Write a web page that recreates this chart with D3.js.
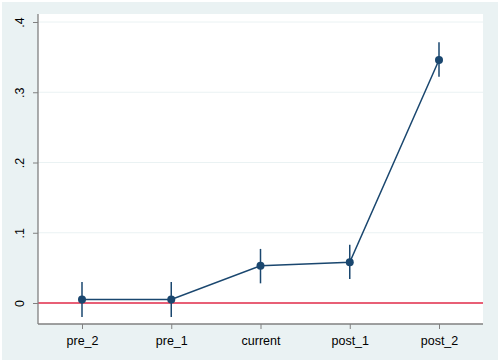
<!DOCTYPE html>
<html><head><meta charset="utf-8">
<script src="https://cdn.jsdelivr.net/npm/d3@7"></script>
<style>body{margin:0;background:#fff}svg{display:block}text{font-family:"Liberation Sans",Arial,sans-serif}</style>
</head><body>
<div id="chart"></div>
<script>
const categories = ["pre_2", "pre_1", "current", "post_1", "post_2"];
const estimates  = [0.005, 0.005, 0.053, 0.058, 0.346];
const ciLower    = [-0.020, -0.020, 0.028, 0.034, 0.322];
const ciUpper    = [0.030, 0.030, 0.077, 0.083, 0.371];
const yTicks     = [0, 0.1, 0.2, 0.3, 0.4];
const yTickLabels = ["0", ".1", ".2", ".3", ".4"];

const W = 498, H = 363;
const plot = {left: 38, right: 483, top: 14, bottom: 324};

const svg = d3.select("#chart").append("svg").attr("width", W).attr("height", H);
svg.append("rect").attr("x", 2).attr("y", 2).attr("width", W - 2).attr("height", 358).attr("fill", "#eaf2f3");
svg.append("rect").attr("x", plot.left).attr("y", plot.top)
  .attr("width", plot.right - plot.left).attr("height", plot.bottom - plot.top).attr("fill", "#fff");

const x = d3.scalePoint().domain(categories).range([82, 439]);
const y = d3.scaleLinear().domain([0, 0.4]).range([303, 22]);

// gridlines
svg.append("g").selectAll("line").data(yTicks.filter(d => d > 0)).join("line")
  .attr("x1", plot.left).attr("x2", plot.right)
  .attr("y1", d => y(d)).attr("y2", d => y(d))
  .attr("stroke", "#eaf2f3").attr("stroke-width", 1);

// zero line
svg.append("line").attr("x1", plot.left).attr("x2", plot.right)
  .attr("y1", y(0)).attr("y2", y(0)).attr("stroke", "#e02a48").attr("stroke-width", 1.5);

// y axis
const yAxis = d3.axisLeft(y).tickValues(yTicks).tickFormat((d, i) => yTickLabels[i]).tickSize(5).tickSizeOuter(0);
const gy = svg.append("g").attr("transform", `translate(${plot.left},0)`).call(yAxis);
gy.select(".domain").attr("d", `M0,${plot.top}V${plot.bottom}`).attr("stroke", "#808080").attr("stroke-width", 1.3);
gy.selectAll(".tick line").attr("stroke", "#808080");
gy.selectAll(".tick text").attr("font-size", 12.5).attr("fill", "#000")
  .attr("transform", "rotate(-90)").attr("x", 0).attr("y", -14).attr("dy", 0)
  .attr("text-anchor", "middle").attr("dominant-baseline", "auto");

// x axis
const xAxis = d3.axisBottom(x).tickSize(5).tickSizeOuter(0);
const gx = svg.append("g").attr("transform", `translate(0,${plot.bottom})`).call(xAxis);
gx.select(".domain").attr("d", `M${plot.left},0H${plot.right}`).attr("stroke", "#808080").attr("stroke-width", 1.3);
gx.selectAll(".tick line").attr("stroke", "#808080");
gx.selectAll(".tick text").attr("font-size", 12.5).attr("fill", "#000").attr("y", 12).attr("dy", "0.71em");

const data = categories.map((c, i) => ({c, v: estimates[i], lo: ciLower[i], hi: ciUpper[i]}));
const col = "#1a476f";

// CIs
svg.append("g").selectAll("line").data(data).join("line")
  .attr("x1", d => x(d.c)).attr("x2", d => x(d.c))
  .attr("y1", d => y(d.lo)).attr("y2", d => y(d.hi))
  .attr("stroke", col).attr("stroke-width", 1.5);

// connecting line
svg.append("path").datum(data)
  .attr("d", d3.line().x(d => x(d.c)).y(d => y(d.v)))
  .attr("fill", "none").attr("stroke", col).attr("stroke-width", 1.5);

// markers
svg.append("g").selectAll("circle").data(data).join("circle")
  .attr("cx", d => x(d.c)).attr("cy", d => y(d.v)).attr("r", 4)
  .attr("fill", col);
</script>
</body></html>
